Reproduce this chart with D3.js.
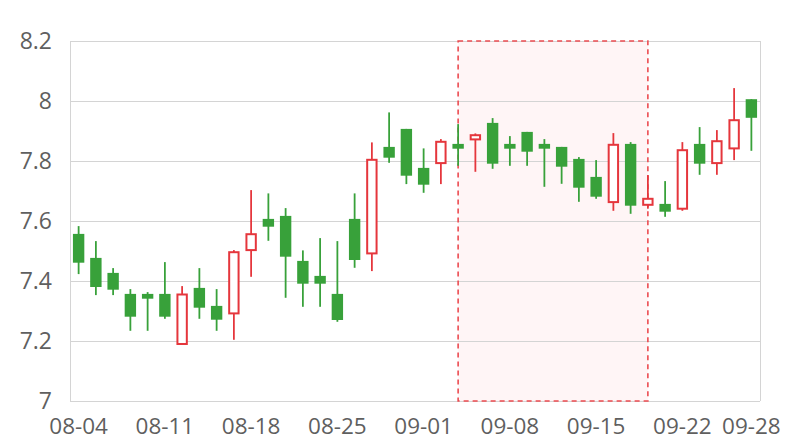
<!DOCTYPE html>
<html><head><meta charset="utf-8">
<script src="https://cdn.jsdelivr.net/npm/d3@7"></script>
<style>body{margin:0;background:#fff}svg{display:block}</style>
</head><body>
<svg id="chart" width="800" height="440"></svg>
<script>
const dates = ["08-04","08-05","08-06","08-07","08-08",
  "08-11","08-12","08-13","08-14","08-15",
  "08-18","08-19","08-20","08-21","08-22",
  "08-25","08-26","08-27","08-28","08-29",
  "09-01","09-02","09-03","09-04","09-05",
  "09-08","09-09","09-10","09-11","09-12",
  "09-15","09-16","09-17","09-18","09-19",
  "09-22","09-23","09-24","09-25","09-28"];
const openVals  = [7.557,7.477,7.427,7.357,7.357,7.357,7.190,7.377,7.317,7.292,
  7.503,7.607,7.617,7.467,7.417,7.357,7.607,7.492,7.847,7.907,
  7.777,7.793,7.857,7.872,7.927,7.857,7.897,7.857,7.847,7.807,
  7.747,7.663,7.857,7.654,7.657,7.641,7.857,7.793,7.842,8.006];
const highVals  = [7.583,7.533,7.443,7.373,7.363,7.463,7.383,7.443,7.373,7.503,
  7.703,7.692,7.643,7.502,7.543,7.533,7.692,7.862,7.962,7.907,
  7.842,7.873,7.923,7.892,7.943,7.883,7.897,7.873,7.847,7.813,
  7.803,7.893,7.863,7.753,7.733,7.863,7.913,7.903,8.043,8.006];
const lowVals   = [7.423,7.353,7.353,7.234,7.234,7.274,7.190,7.274,7.234,7.204,
  7.414,7.534,7.344,7.314,7.314,7.264,7.444,7.433,7.794,7.723,
  7.694,7.723,7.784,7.764,7.774,7.784,7.784,7.714,7.724,7.664,
  7.674,7.634,7.624,7.641,7.614,7.634,7.754,7.754,7.803,7.834];
const closeVals = [7.461,7.380,7.371,7.281,7.341,7.281,7.355,7.311,7.271,7.496,
  7.556,7.581,7.481,7.391,7.391,7.270,7.470,7.804,7.811,7.751,
  7.721,7.864,7.841,7.886,7.791,7.841,7.831,7.841,7.781,7.711,
  7.681,7.854,7.651,7.674,7.631,7.836,7.791,7.866,7.936,7.944];
const yTicks = [7, 7.2, 7.4, 7.6, 7.8, 8, 8.2];
const xTickLabels = ["08-04","08-11","08-18","08-25","09-01","09-08","09-15","09-22","09-28"];
const highlightRange = ["09-03","09-18"];

const data = dates.map((d,i)=>({d, o:openVals[i], h:highVals[i], l:lowVals[i], c:closeVals[i]}));

const svg = d3.select("#chart");
const pL = 70, pR = 760, pT = 41, pB = 401;
const x = d3.scaleBand().domain(dates).range([pL, pR]).padding(0);
const y = d3.scaleLinear().domain([7, 8.2]).range([pB, pT]);
const cx = d => x(d) + x.bandwidth()/2;
const FONT = "'Open Sans', 'Noto Sans', sans-serif";
const GREEN = "#38a13a", RED = "#e5363c";

// highlight region
const hx0 = cx(highlightRange[0]), hx1 = cx(highlightRange[1]);
svg.append("rect").attr("x", hx0).attr("y", pT).attr("width", hx1-hx0).attr("height", pB-pT)
  .attr("fill", "#fff5f6");

// gridlines
svg.append("g").selectAll("line").data(yTicks).join("line")
  .attr("x1", pL).attr("x2", pR).attr("y1", d=>y(d)).attr("y2", d=>y(d))
  .attr("stroke", "#d4d4d4").attr("stroke-width", 1).attr("shape-rendering","crispEdges");
svg.append("line").attr("x1", pL).attr("x2", pL).attr("y1", pT).attr("y2", pB)
  .attr("stroke", "#d4d4d4").attr("shape-rendering","crispEdges");
svg.append("line").attr("x1", pR).attr("x2", pR).attr("y1", pT).attr("y2", pB)
  .attr("stroke", "#d4d4d4").attr("shape-rendering","crispEdges");

// highlight dashed border
svg.append("rect").attr("x", hx0).attr("y", pT).attr("width", hx1-hx0).attr("height", pB-pT)
  .attr("fill", "none").attr("stroke", "#ec4b50").attr("stroke-width", 1.6)
  .attr("stroke-dasharray", "5,4");

// y axis labels
const yAxis = d3.axisLeft(y).tickValues(yTicks).tickSize(0).tickPadding(0).tickFormat(d3.format("~g"));
const gy = svg.append("g").attr("transform", `translate(${52},0)`).call(yAxis);
gy.select(".domain").remove();
gy.selectAll("text").attr("font-family", FONT).attr("font-size", 23).attr("fill", "#5f5f5f").attr("dy","0.34em");

// x axis labels
const xAxis = d3.axisBottom(x).tickValues(xTickLabels).tickSize(0).tickPadding(0);
const gx = svg.append("g").attr("transform", `translate(0,${pB})`).call(xAxis);
gx.select(".domain").remove();
gx.selectAll("text").attr("font-family", FONT).attr("font-size", 22.5).attr("fill", "#5f5f5f").attr("dy","0").attr("y", 32.5);

// candles
const bw = x.bandwidth()*0.66;
const g = svg.append("g");
const candle = g.selectAll("g").data(data).join("g");
candle.append("line")
  .attr("x1", d=>cx(d.d)).attr("x2", d=>cx(d.d))
  .attr("y1", d=>y(d.h)).attr("y2", d=>y(d.l))
  .attr("stroke", d=> d.c>=d.o ? RED : GREEN).attr("stroke-width", 1.8);
candle.append("rect")
  .attr("x", d=> d.c>=d.o ? cx(d.d)-bw/2+1 : cx(d.d)-bw/2)
  .attr("width", d=> d.c>=d.o ? bw-2 : bw)
  .attr("y", d=>y(Math.max(d.o,d.c)))
  .attr("height", d=>Math.max(1, y(Math.min(d.o,d.c))-y(Math.max(d.o,d.c))))
  .attr("fill", d=> d.c>=d.o ? "#ffffff" : GREEN)
  .attr("stroke", d=> d.c>=d.o ? RED : "none")
  .attr("stroke-width", 2);
</script>
</body></html>
